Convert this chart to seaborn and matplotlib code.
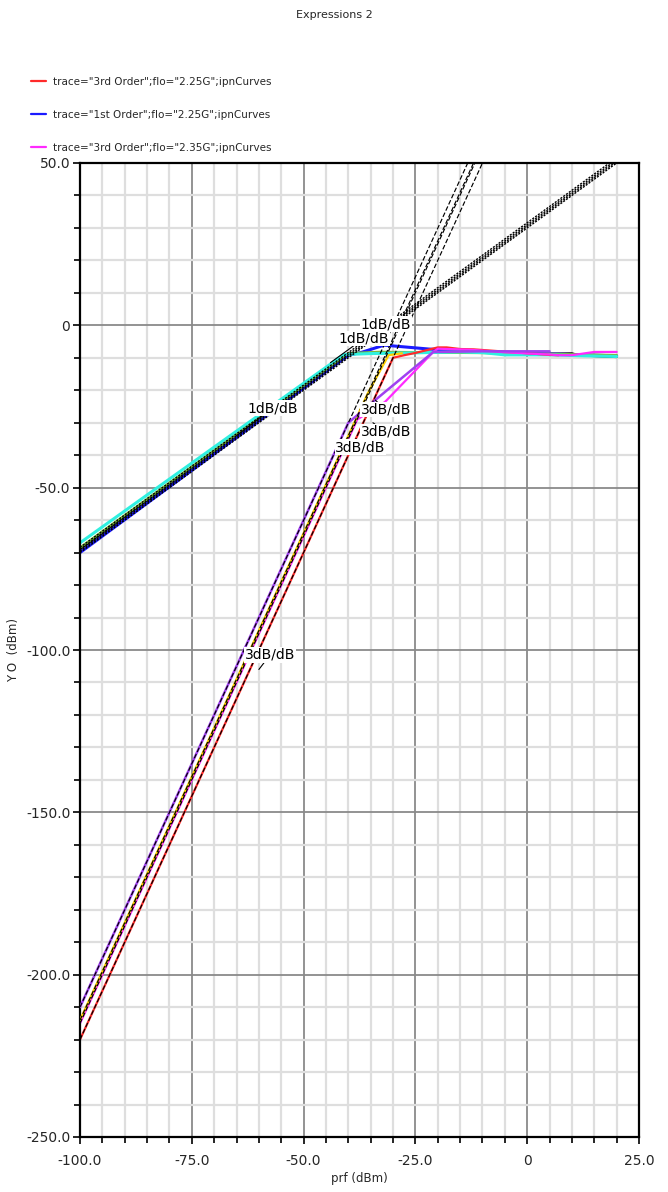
import matplotlib
matplotlib.use("Agg")
import matplotlib.pyplot as plt
from matplotlib.ticker import FixedLocator, MultipleLocator
import pandas as pd
import seaborn as sns

# ---- fundamental (1st order) output traces ----
blue_x = [-100, -40, -37, -32, -22, -10, 0, 10, 20]
blue_y = [-70.0, -9.2, -8.3, -6.1, -7.3, -8.2, -8.6, -9.0, -9.4]
green_x = [-100, -40, -33, -25, -10, 5, 20]
green_y = [-68.5, -8.6, -8.2, -8.3, -8.5, -8.8, -9.2]
black_fund_x = [-100, -40, -35, -25, -10, 0, 10, 12, 15, 20]
black_fund_y = [-69.0, -9.0, -8.5, -8.3, -8.5, -8.8, -8.6, -9.3, -9.5, -9.8]
cyan_x = [-100, -41, -35, -30, -15, -10, -5, 5, 10, 20]
cyan_y = [-67.0, -9.0, -8.7, -8.6, -8.2, -8.4, -9.1, -9.1, -9.3, -9.6]

# ---- 3rd order intermod traces ----
purple_x = [-100, -40, -34.5, -21, -10, 5]
purple_y = [-210.0, -30.0, -23.6, -8.2, -8.0, -8.0]
yellow_x = [-100, -35.6, -31, -28]
yellow_y = [-214.0, -20.8, -9.2, -8.6]
magenta_x = [-100, -38, -31.8, -21, -20, -13, -5, 5, 7, 10, 15, 20]
magenta_y = [-215.0, -29.0, -23.6, -8.2, -7.2, -7.5, -8.3, -9.0, -9.2, -9.2, -8.2, -8.2]
red_x = [-100, -34.5, -30, -27.5, -25, -20, -18, -15, -12, 0, 5, 7]
red_y = [-220.0, -23.5, -10.0, -9.2, -8.5, -6.8, -6.8, -7.3, -7.4, -8.6, -9.1, -9.2]

# ---- extrapolated lines (start / end points) ----
ext1_x0 = [-100, -100, -100, -100]
ext1_y0 = [-70.0, -69.5, -69.0, -68.4]
ext1_x1 = [20.0, 19.5, 19.0, 18.4]
ext1_y1 = [50, 50, 50, 50]
ext3_x0 = [-100, -100, -100, -100]
ext3_y0 = [-210.0, -214.0, -215.0, -220.0]
ext3_x1 = [-13.3, -12.0, -11.7, -10.0]
ext3_y1 = [50, 50, 50, 50]

# ---- slope annotations: text, label centre, leader target ----
ann_text = ["1dB/dB", "1dB/dB", "1dB/dB", "3dB/dB", "3dB/dB", "3dB/dB", "3dB/dB"]
ann_x = [-57.0, -36.5, -31.6, -31.6, -31.6, -37.3, -57.5]
ann_y = [-25.5, -4.0, 0.4, -26.0, -32.8, -37.5, -101.5]
ann_tx = [-65.0, -44.0, -33.5, -34.0, -34.5, -40.0, -60.0]
ann_ty = [-34.0, -11.5, -2.0, -23.0, -30.0, -38.0, -106.0]

# ---- axis ticks ----
xticks = [-100, -75, -50, -25, 0, 25]
xtick_labels = ["-100.0", "-75.0", "-50.0", "-25.0", "0", "25.0"]
yticks = [50, 0, -50, -100, -150, -200, -250]
ytick_labels = ["50.0", "0", "-50.0", "-100.0", "-150.0", "-200.0", "-250.0"]

legend_labels = ['trace="3rd Order";flo="2.25G";ipnCurves',
                 'trace="1st Order";flo="2.25G";ipnCurves',
                 'trace="3rd Order";flo="2.35G";ipnCurves']

C_RED = "#ff2a2a"
C_BLUE = "#1a1aff"
C_MAG = "#ff2aff"
C_PURPLE = "#a040f0"
C_YELLOW = "#ffd000"
C_CYAN = "#30f0e0"
C_GREEN = "#7cb83a"

sns.set_theme(style="white")
plt.rcParams["font.family"] = ["DejaVu Sans"]

W, H = 668, 1192
fig = plt.figure(figsize=(W / 100, H / 100), dpi=100)
ax = fig.add_axes([80 / W, 1 - 1137 / H, (639 - 80) / W, (1137 - 163) / H])


def trace(x, y, color, lw=1.6, ls="-", z=2):
    df = pd.DataFrame({"x": x, "y": y})
    sns.lineplot(data=df, x="x", y="y", ax=ax, color=color, lw=lw, ls=ls,
                 sort=False, estimator=None, zorder=z, legend=False)


# fundamental curves
trace(black_fund_x, black_fund_y, "black", lw=1.4, z=2)
trace(blue_x, blue_y, C_BLUE, lw=2.2, z=2.1)
trace(green_x, green_y, C_GREEN, lw=1.8, z=2.2)
trace(cyan_x, cyan_y, C_CYAN, lw=2.2, z=2.3)

# intermod curves
trace(red_x, red_y, C_RED, lw=1.6, z=2.4)
trace(magenta_x, magenta_y, C_MAG, lw=1.6, z=2.5)
trace(yellow_x, yellow_y, C_YELLOW, lw=1.6, z=2.6)
trace(purple_x, purple_y, C_PURPLE, lw=1.8, z=2.7)

# extrapolated 1 dB/dB and 3 dB/dB lines
for x0, y0, x1, y1 in zip(ext1_x0, ext1_y0, ext1_x1, ext1_y1):
    trace([x0, x1], [y0, y1], "black", lw=1.0, ls=(0, (1.5, 1.0)), z=3)
for x0, y0, x1, y1 in zip(ext3_x0, ext3_y0, ext3_x1, ext3_y1):
    trace([x0, x1], [y0, y1], "black", lw=0.85, ls=(0, (4.0, 1.8)), z=3)

# slope annotations with leaders
for t, x, y, tx, ty in zip(ann_text, ann_x, ann_y, ann_tx, ann_ty):
    ax.annotate(t, xy=(tx, ty), xytext=(x, y), ha="center", va="center",
                fontsize=10, color="black", zorder=5,
                bbox=dict(boxstyle="square,pad=0.05", fc="white", ec="none"),
                arrowprops=dict(arrowstyle="-", color="black", lw=0.8,
                                shrinkA=0, shrinkB=0))

ax.set_xlim(-100, 25)
ax.set_ylim(-250, 50)
ax.xaxis.set_major_locator(FixedLocator(xticks))
ax.yaxis.set_major_locator(FixedLocator(yticks))
ax.set_xticklabels(xtick_labels)
ax.set_yticklabels(ytick_labels)
ax.xaxis.set_minor_locator(MultipleLocator(5))
ax.yaxis.set_minor_locator(MultipleLocator(10))

ax.set_axisbelow(True)
ax.grid(which="minor", color="#dedede", lw=1.6)
ax.grid(which="major", color="#8a8a8a", lw=1.3)

for s in ax.spines.values():
    s.set_color("black")
    s.set_linewidth(1.6)
    s.set_visible(True)

ax.tick_params(which="both", direction="out", color="black", width=1.2,
               bottom=True, left=True, top=False, right=False)
ax.tick_params(which="major", length=5)
ax.tick_params(which="minor", length=4)
ax.tick_params(axis="x", which="major", pad=7, labelsize=10)
ax.tick_params(axis="y", which="major", pad=2, labelsize=10)

ax.set_xlabel("prf (dBm)", fontsize=8.5)
ax.set_ylabel("Y O  (dBm)", fontsize=8.5)
ax.xaxis.set_label_coords(0.5, -(1172 - 1137) / (1137 - 163))
ax.yaxis.set_label_coords((20 - 80) / (639 - 80), 0.5)

fig.text(0.5, 1 - 15 / H, "Expressions 2", ha="center", va="center",
         fontsize=8)

handles = [plt.Line2D([], [], color=c, lw=1.6) for c in (C_RED, C_BLUE, C_MAG)]
fig.legend(handles, legend_labels, loc="upper left",
           bbox_to_anchor=(31 / W, 1 - 77 / H), frameon=False, fontsize=7.5,
           handlelength=1.4, handletextpad=0.75, labelspacing=2.2,
           borderpad=0, borderaxespad=0)

fig.savefig("out.png", dpi=100)
